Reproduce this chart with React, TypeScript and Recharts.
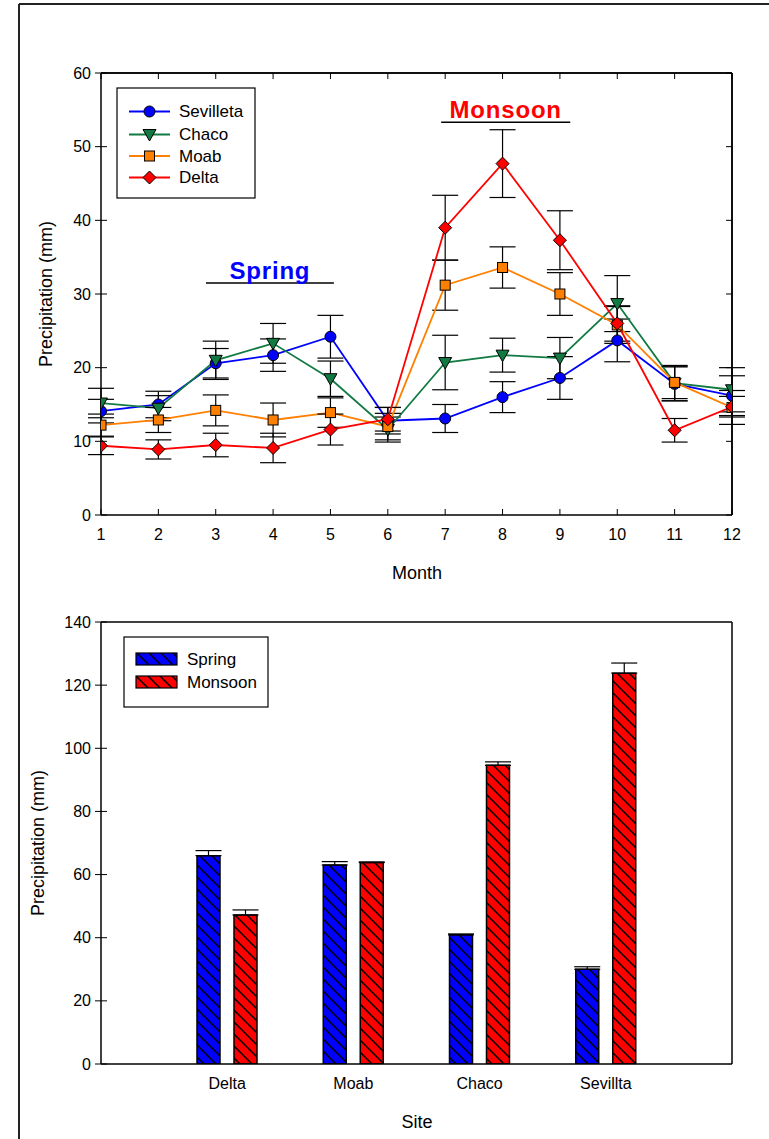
import React from 'react';
import { LineChart, Line, XAxis, YAxis, ErrorBar, BarChart, Bar, ReferenceLine } from 'recharts';

const FONT = '"Liberation Sans", Arial, sans-serif';

// ---------- Top chart data ----------
const months = [1, 2, 3, 4, 5, 6, 7, 8, 9, 10, 11, 12];
const sevilleta = [14.1, 15.0, 20.6, 21.7, 24.2, 12.8, 13.1, 16.0, 18.6, 23.7, 17.8, 16.2];
const sevilletaErr = [1.6, 1.8, 2.0, 2.2, 2.9, 1.8, 1.9, 2.1, 2.9, 2.9, 2.3, 2.7];
const chaco = [15.2, 14.5, 21.0, 23.3, 18.5, 11.6, 20.7, 21.7, 21.3, 28.7, 17.9, 17.0];
const chacoErr = [2.0, 1.7, 2.6, 2.7, 2.4, 1.7, 3.7, 2.3, 2.8, 3.8, 2.4, 3.0];
const moab = [12.2, 12.9, 14.2, 12.9, 13.9, 12.0, 31.2, 33.6, 30.0, 25.8, 18.0, 14.6];
const moabErr = [1.5, 1.7, 2.1, 2.3, 2.0, 1.8, 3.4, 2.8, 2.9, 2.5, 2.2, 2.3];
const delta = [9.4, 8.9, 9.5, 9.1, 11.6, 13.0, 39.0, 47.7, 37.3, 26.0, 11.5, 14.7];
const deltaErr = [1.2, 1.3, 1.6, 2.0, 2.1, 1.6, 4.4, 4.6, 4.0, 2.4, 1.6, 1.4];
const topYTicks = [0, 10, 20, 30, 40, 50, 60];

// ---------- Bottom chart data ----------
const sites = ['Delta', 'Moab', 'Chaco', 'Sevillta'];
const springTotals = [66.0, 63.0, 40.9, 30.0];
const springErr = [1.6, 1.1, 0.3, 0.8];
const monsoonTotals = [47.2, 63.8, 94.6, 123.8];
const monsoonErr = [1.6, 0.2, 1.1, 3.2];
const bottomYTicks = [0, 20, 40, 60, 80, 100, 120, 140];

const lineData = months.map((m, i) => ({
  month: m,
  sev: sevilleta[i], sevErr: sevilletaErr[i],
  cha: chaco[i], chaErr: chacoErr[i],
  moa: moab[i], moaErr: moabErr[i],
  del: delta[i], delErr: deltaErr[i],
}));

const barData = sites.map((s, i) => ({
  site: s,
  spring: springTotals[i], springE: [0, springErr[i]],
  monsoon: monsoonTotals[i], monsoonE: [0, monsoonErr[i]],
}));

const BLUE = '#0000ff';
const GREEN = '#117a43';
const ORANGE = '#ff8000';
const RED = '#ff0000';

// ---------- markers ----------
const CircleM = ({ cx, cy }: any) => <circle cx={cx} cy={cy} r={5.5} fill={BLUE} stroke="#000" strokeWidth={1} />;
const TriM = ({ cx, cy }: any) => (
  <polygon points={`${cx - 6.5},${cy - 5} ${cx + 6.5},${cy - 5} ${cx},${cy + 6.5}`} fill={GREEN} stroke="#000" strokeWidth={1} />
);
const SqM = ({ cx, cy }: any) => <rect x={cx - 5} y={cy - 5} width={10} height={10} fill={ORANGE} stroke="#000" strokeWidth={1} />;
const DiaM = ({ cx, cy }: any) => (
  <polygon points={`${cx},${cy - 6.5} ${cx + 6.5},${cy} ${cx},${cy + 6.5} ${cx - 6.5},${cy}`} fill={RED} stroke="#000" strokeWidth={1} />
);

const dotFn = (C: any) => (p: any) => <C key={`d-${p.index}`} cx={p.cx} cy={p.cy} />;

// ---------- ticks ----------
const BottomTick = ({ x, y, payload, inward }: any) => (
  <g>
    {inward ? <line x1={x} x2={x} y1={y} y2={y - 6} stroke="#000" strokeWidth={1} /> : null}
    <text x={x} y={y + 19} textAnchor="middle" dominantBaseline="central" fontSize={16} fontFamily={FONT} fill="#000">
      {payload.value}
    </text>
  </g>
);
const TopTick = ({ x, y }: any) => <line x1={x} x2={x} y1={y} y2={y + 6} stroke="#000" strokeWidth={1} />;
const LeftTick = ({ x, y, payload }: any) => (
  <g>
    <line x1={x - 6} x2={x + 6} y1={y} y2={y} stroke="#000" strokeWidth={1} />
    <text x={x - 10} y={y} textAnchor="end" dominantBaseline="central" fontSize={16} fontFamily={FONT} fill="#000">
      {payload.value}
    </text>
  </g>
);
const RightTick = ({ x, y }: any) => <line x1={x} x2={x - 6} y1={y} y2={y} stroke="#000" strokeWidth={1} />;
const NoTick = () => <g />;

const axisLine = { stroke: '#000', strokeWidth: 1.5 };

const TopChart = () => (
  <LineChart width={769} height={600} data={lineData} margin={{ top: 72, right: 36, left: 41, bottom: 40 }}>
    <XAxis dataKey="month" type="number" domain={[1, 12]} ticks={months} interval={0} allowDataOverflow
      tickSize={0} tickMargin={0} height={45} axisLine={axisLine} tickLine={false}
      tick={<BottomTick inward />} />
    <XAxis xAxisId="top" orientation="top" dataKey="month" type="number" domain={[1, 12]} ticks={months} interval={0}
      allowDataOverflow tickSize={0} tickMargin={0} height={1} axisLine={axisLine} tickLine={false} tick={<TopTick />} />
    <YAxis type="number" domain={[0, 60]} ticks={topYTicks} interval={0} allowDataOverflow width={60}
      tickSize={0} tickMargin={0} axisLine={axisLine} tickLine={false} tick={<LeftTick />} />
    <YAxis yAxisId="r" orientation="right" type="number" domain={[0, 60]} ticks={topYTicks} interval={0}
      allowDataOverflow width={1} tickSize={0} tickMargin={0} axisLine={axisLine} tickLine={false} tick={<RightTick />} />

    <ReferenceLine segment={[{ x: 2.83, y: 31.5 }, { x: 5.06, y: 31.5 }]} stroke="#000" strokeWidth={1.5}
      label={{ value: 'Spring', position: 'top', offset: 4, fill: BLUE, fontSize: 24, fontWeight: 'bold', fontFamily: FONT, letterSpacing: 0.8 }} />
    <ReferenceLine segment={[{ x: 6.93, y: 53.3 }, { x: 9.18, y: 53.3 }]} stroke="#000" strokeWidth={1.5}
      label={{ value: 'Monsoon', position: 'top', offset: 4, fill: RED, fontSize: 24, fontWeight: 'bold', fontFamily: FONT, letterSpacing: 0.8 }} />

    <Line dataKey="sev" stroke={BLUE} strokeWidth={1.8} isAnimationActive={false} dot={dotFn(CircleM)} activeDot={false}>
      <ErrorBar dataKey="sevErr" direction="y" width={13} stroke="#000" strokeWidth={1.2} />
    </Line>
    <Line dataKey="cha" stroke={GREEN} strokeWidth={1.8} isAnimationActive={false} dot={dotFn(TriM)} activeDot={false}>
      <ErrorBar dataKey="chaErr" direction="y" width={13} stroke="#000" strokeWidth={1.2} />
    </Line>
    <Line dataKey="moa" stroke={ORANGE} strokeWidth={1.8} isAnimationActive={false} dot={dotFn(SqM)} activeDot={false}>
      <ErrorBar dataKey="moaErr" direction="y" width={13} stroke="#000" strokeWidth={1.2} />
    </Line>
    <Line dataKey="del" stroke={RED} strokeWidth={1.8} isAnimationActive={false} dot={dotFn(DiaM)} activeDot={false}>
      <ErrorBar dataKey="delErr" direction="y" width={13} stroke="#000" strokeWidth={1.2} />
    </Line>
    {/* frame: top and right edges of the plot box */}
    <ReferenceLine y={60} stroke="#000" strokeWidth={1.5} />
    <ReferenceLine x={12} stroke="#000" strokeWidth={1.5} />
  </LineChart>
);

const BottomChart = () => (
  <BarChart width={769} height={579} data={barData} margin={{ top: 62, right: 37, left: 41, bottom: 30 }}
    barSize={23} barGap={14}>
    <defs>
      <pattern id="hatchBlue" patternUnits="userSpaceOnUse" width={12} height={12}>
        <rect x={0} y={0} width={12} height={12} fill={BLUE} />
        <path d="M0,0 L12,12 M-6,6 L6,18 M6,-6 L18,6" stroke="#000" strokeWidth={1.5} />
      </pattern>
      <pattern id="hatchRed" patternUnits="userSpaceOnUse" width={12} height={12}>
        <rect x={0} y={0} width={12} height={12} fill={RED} />
        <path d="M0,0 L12,12 M-6,6 L6,18 M6,-6 L18,6" stroke="#000" strokeWidth={1.5} />
      </pattern>
    </defs>
    <XAxis dataKey="site" padding={{ left: 63, right: 63 }} interval={0} tickSize={0} tickMargin={0} height={45}
      axisLine={axisLine} tickLine={false} tick={<BottomTick />} />
    <YAxis type="number" domain={[0, 140]} ticks={bottomYTicks} interval={0} allowDataOverflow width={60}
      tickSize={0} tickMargin={0} axisLine={axisLine} tickLine={false} tick={<LeftTick />} />
    <Bar dataKey="spring" fill="url(#hatchBlue)" stroke="#000" strokeWidth={1.5} isAnimationActive={false}>
      <ErrorBar dataKey="springE" direction="y" width={13} stroke="#000" strokeWidth={1.2} />
    </Bar>
    <Bar dataKey="monsoon" fill="url(#hatchRed)" stroke="#000" strokeWidth={1.5} isAnimationActive={false}>
      <ErrorBar dataKey="monsoonE" direction="y" width={13} stroke="#000" strokeWidth={1.2} />
    </Bar>
    {/* frame: top and right edges of the plot box */}
    <ReferenceLine y={140} stroke="#000" strokeWidth={1.5} />
    <ReferenceLine x="Sevillta" stroke="none" />
  </BarChart>
);

const legendSeries = [
  { name: 'Sevilleta', color: BLUE, M: CircleM },
  { name: 'Chaco', color: GREEN, M: TriM },
  { name: 'Moab', color: ORANGE, M: SqM },
  { name: 'Delta', color: RED, M: DiaM },
];
const legendBars = [
  { name: 'Spring', fill: 'url(#hatchBlueL)' },
  { name: 'Monsoon', fill: 'url(#hatchRedL)' },
];

const Overlay = () => (
  <svg width={769} height={1139} style={{ position: 'absolute', left: 0, top: 0, pointerEvents: 'none' }}>
    <defs>
      <pattern id="hatchBlueL" patternUnits="userSpaceOnUse" width={12} height={12}>
        <rect x={0} y={0} width={12} height={12} fill={BLUE} />
        <path d="M0,0 L12,12 M-6,6 L6,18 M6,-6 L18,6" stroke="#000" strokeWidth={1.5} />
      </pattern>
      <pattern id="hatchRedL" patternUnits="userSpaceOnUse" width={12} height={12}>
        <rect x={0} y={0} width={12} height={12} fill={RED} />
        <path d="M0,0 L12,12 M-6,6 L6,18 M6,-6 L18,6" stroke="#000" strokeWidth={1.5} />
      </pattern>
    </defs>
    {/* outer frame */}
    <line x1={19} y1={4} x2={19} y2={1139} stroke="#222" strokeWidth={2} />
    <line x1={19} y1={4} x2={769} y2={4} stroke="#222" strokeWidth={2} />

    {/* right edge of bottom plot box */}
    <line x1={732} y1={622} x2={732} y2={1064} stroke="#000" strokeWidth={1.5} />

    {/* axis titles */}
    <text x={417} y={573} textAnchor="middle" dominantBaseline="central" fontSize={18} fontFamily={FONT}>Month</text>
    <text x={46} y={294} textAnchor="middle" dominantBaseline="central" fontSize={18} fontFamily={FONT}
      transform="rotate(-90 46 294)">Precipitation (mm)</text>
    <text x={417} y={1122} textAnchor="middle" dominantBaseline="central" fontSize={18} fontFamily={FONT}>Site</text>
    <text x={38} y={843} textAnchor="middle" dominantBaseline="central" fontSize={18} fontFamily={FONT}
      transform="rotate(-90 38 843)">Precipitation (mm)</text>

    {/* top legend */}
    <rect x={117} y={88} width={138} height={110} fill="#fff" stroke="#000" strokeWidth={1.2} />
    {legendSeries.map((s, i) => {
      const y = [111.5, 134.5, 156, 177.5][i];
      const M = s.M;
      return (
        <g key={s.name}>
          <line x1={129} x2={170} y1={y} y2={y} stroke={s.color} strokeWidth={1.8} />
          <M cx={149.5} cy={y} />
          <text x={179} y={y} dominantBaseline="central" fontSize={17} fontFamily={FONT}>{s.name}</text>
        </g>
      );
    })}

    {/* bottom legend */}
    <rect x={124} y={637} width={144} height={70} fill="#fff" stroke="#000" strokeWidth={1.2} />
    {legendBars.map((b, i) => {
      const y = [653, 676][i];
      return (
        <g key={b.name}>
          <rect x={136} y={y} width={41} height={12} fill={b.fill} stroke="#000" strokeWidth={1.2} />
          <text x={187} y={y + 6} dominantBaseline="central" fontSize={17} fontFamily={FONT}>{b.name}</text>
        </g>
      );
    })}
  </svg>
);

export default function App() {
  return (
    <div style={{ position: 'absolute', left: 0, top: 0, width: 769, height: 1139, background: '#fff', fontFamily: FONT }}>
      <div style={{ position: 'absolute', left: 0, top: 0 }}>
        <TopChart />
      </div>
      <div style={{ position: 'absolute', left: 0, top: 560 }}>
        <BottomChart />
      </div>
      <Overlay />
    </div>
  );
}
